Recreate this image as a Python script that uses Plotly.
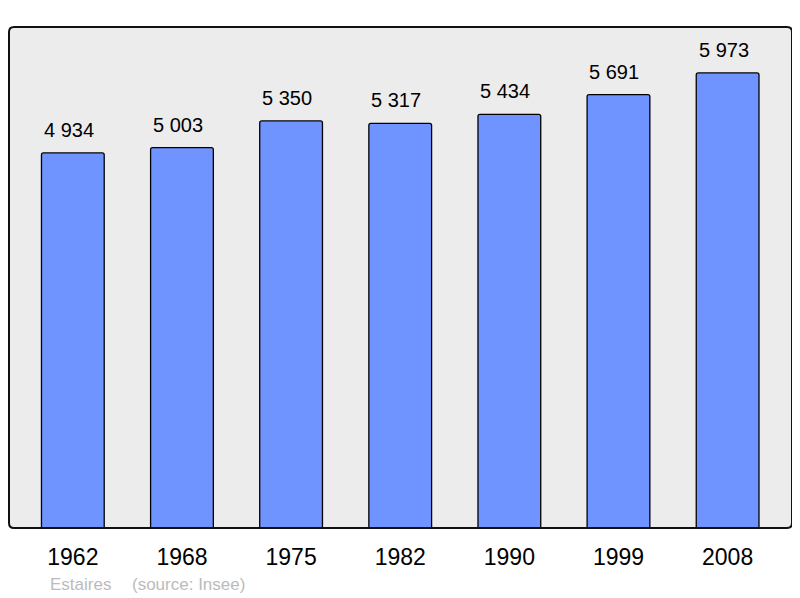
import plotly.graph_objects as go

years = ["1962", "1968", "1975", "1982", "1990", "1999", "2008"]
population = [4934, 5003, 5350, 5317, 5434, 5691, 5973]
labels = [f"{v:,}".replace(",", " ") for v in population]
town = "Estaires"
source = "(source: Insee)"

# page has 8px body margin: figure occupies page x 8..800, y 8..598
FW, FH = 792, 590
ML, MR, MT, MB = 1, 8, 19, 70
W, H = FW - ML - MR, FH - MT - MB


def px_to_paper(px_x, px_y):
    """page pixel -> paper coords"""
    fx, fy = px_x - 8, px_y - 8
    return (fx - ML) / W, (FH - MB - fy) / H


fig = go.Figure()
fig.add_trace(go.Bar(
    x=years, y=population, width=0.575,
    marker=dict(color="#7094ff", line=dict(color="#000000", width=1.3), cornerradius=2),
    hoverinfo="skip",
))

for i, (v, t) in enumerate(zip(population, labels)):
    fig.add_annotation(x=i, y=v, xref="x", yref="y", text=t, showarrow=False,
                       yanchor="bottom", yshift=10, xshift=-4,
                       font=dict(size=20, color="#000000"))

rx, ry = 5 / W, 5 / H
path = (f"M {rx},0 L {1-rx},0 Q 1,0 1,{ry} L 1,{1-ry} Q 1,1 {1-rx},1 "
        f"L {rx},1 Q 0,1 0,{1-ry} L 0,{ry} Q 0,0 {rx},0 Z")
fig.add_shape(type="path", path=path, xref="paper", yref="paper",
              line=dict(color="#111111", width=2), layer="above")

tx, ty = px_to_paper(48, 584)
fig.add_annotation(x=tx, y=ty, xref="paper", yref="paper", text=town,
                   showarrow=False, xanchor="left", yanchor="middle",
                   font=dict(size=17, color="#bbbbbb"))
sx, sy = px_to_paper(130, 584)
fig.add_annotation(x=sx, y=sy, xref="paper", yref="paper", text=source,
                   showarrow=False, xanchor="left", yanchor="middle",
                   font=dict(size=17, color="#bbbbbb"))

fig.update_layout(
    width=FW, height=FH,
    margin=dict(l=ML, r=MR, t=MT, b=MB),
    paper_bgcolor="#ffffff", plot_bgcolor="#ececec",
    font=dict(family="Liberation Sans, Arial, sans-serif", color="#000000"),
    showlegend=False,
    xaxis=dict(range=[-0.585, 6.59], showgrid=False, zeroline=False,
               ticks="outside", ticklen=8, tickcolor="rgba(0,0,0,0)",
               tickfont=dict(size=23, color="#000000"), fixedrange=True),
    yaxis=dict(range=[62, 6570], showgrid=False, zeroline=False,
               showticklabels=False, fixedrange=True),
)

fig.write_html("out.html")
